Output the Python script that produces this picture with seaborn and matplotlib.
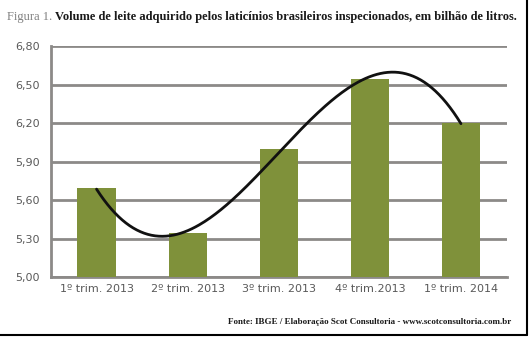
import numpy as np
import pandas as pd
import matplotlib
matplotlib.use("Agg")
import matplotlib.pyplot as plt
from matplotlib.lines import Line2D
import seaborn as sns

categories = ["1º trim. 2013", "2º trim. 2013", "3º trim. 2013", "4º trim.2013", "1º trim. 2014"]
values = [5.69, 5.34, 6.00, 6.54, 6.20]
yticks = [5.00, 5.30, 5.60, 5.90, 6.20, 6.50, 6.80]
ytick_labels = ["5,00", "5,30", "5,60", "5,90", "6,20", "6,50", "6,80"]
title_prefix = "Figura 1."
title_main = "Volume de leite adquirido pelos laticínios brasileiros inspecionados, em bilhão de litros."
source = "Fonte: IBGE / Elaboração Scot Consultoria - www.scotconsultoria.com.br"

sns.set_style("white")
plt.rcParams["font.family"] = ["DejaVu Sans"]

fig = plt.figure(figsize=(5.29, 3.37), dpi=100)
ax = fig.add_axes([0.0964, 0.178, 0.8611, 0.6855])

df = pd.DataFrame({"cat": categories, "val": values})
sns.barplot(data=df, x="cat", y="val", color="#7f913a", saturation=1, width=0.42, ax=ax,
            zorder=3, edgecolor="none", linewidth=0)

# cubic polynomial trend line (Excel-style)
xs = np.arange(len(values))
coef = np.polyfit(xs, values, 3)
xf = np.linspace(0, len(values) - 1, 200)
ax.plot(xf, np.polyval(coef, xf), color="#111111", lw=2.0, zorder=4)

ax.set_xlim(-0.5, len(values) - 0.5)
ax.set_ylim(5.0, 6.8)
ax.set_yticks(yticks)
ax.set_yticklabels(ytick_labels)
ax.set_xlabel("")
ax.set_ylabel("")
ax.yaxis.grid(True, color="#8c8a88", lw=2.0, zorder=0)
ax.set_axisbelow(True)

for s in ["top", "right"]:
    ax.spines[s].set_visible(False)
for s in ["left", "bottom"]:
    ax.spines[s].set_color("#8c8a88")
    ax.spines[s].set_linewidth(2.0)

ax.set_xticks(np.arange(-0.5, len(values), 1.0), minor=True)
ax.tick_params(axis="x", which="major", length=0, labelsize=8, labelcolor="#595959", pad=5)
ax.tick_params(axis="x", which="minor", length=5, width=1.5, color="#8c8a88", direction="out")
ax.tick_params(axis="y", which="major", length=5, width=1.5, color="#8c8a88", labelsize=8,
               labelcolor="#595959", pad=3)

# title in two parts
t1 = fig.text(7 / 529, 1 - 17 / 337, title_prefix, family="Liberation Serif", fontsize=9,
              color="#808080", va="center", ha="left")
fig.canvas.draw()
bb = t1.get_window_extent()
x2 = (bb.x1 + 3) / fig.bbox.width
fig.text(x2, 1 - 17 / 337, title_main, family="Liberation Serif", fontsize=9,
         fontweight="bold", color="#1a1a1a", va="center", ha="left")

fig.text(511 / 529, 1 - 322 / 337, source, family="Liberation Serif", fontsize=6.5,
         fontweight="bold", color="#1a1a1a", va="center", ha="right")

# frame on right and bottom
fig.add_artist(Line2D([527 / 529, 527 / 529], [2 / 337, 1], transform=fig.transFigure,
                      color="black", lw=1.5))
fig.add_artist(Line2D([0, 527 / 529], [2 / 337, 2 / 337], transform=fig.transFigure,
                      color="black", lw=1.5))

fig.savefig("out.png", dpi=100)
